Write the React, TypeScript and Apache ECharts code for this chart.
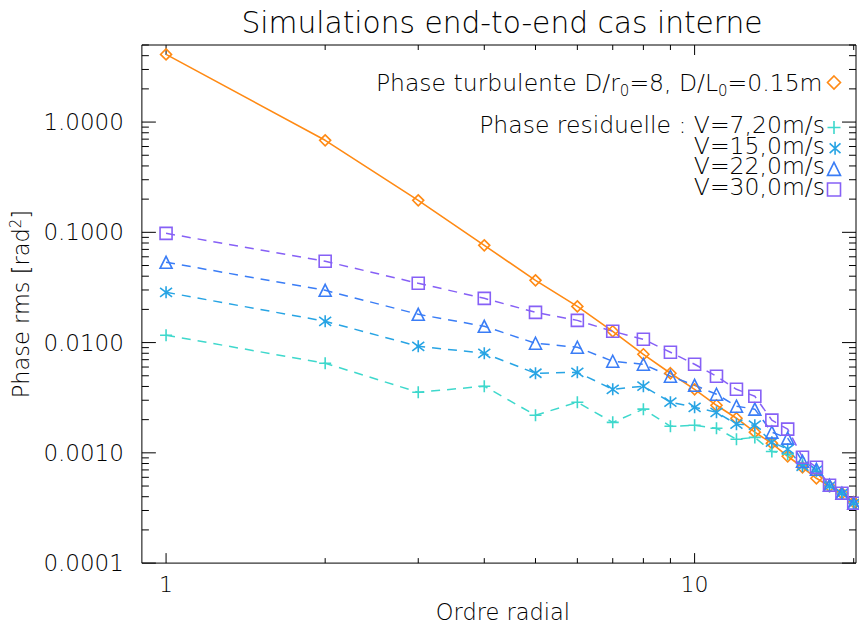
import React, { useEffect, useRef } from 'react';
import * as echarts from 'echarts';

const orders = [1, 2, 3, 4, 5, 6, 7, 8, 9, 10, 11, 12, 13, 14, 15, 16, 17, 18, 19, 20];
const turbulent = [4.11, 0.683, 0.195, 0.0762, 0.0367, 0.0213, 0.01266, 0.00783, 0.00527, 0.00377, 0.0027, 0.00206, 0.00154, 0.00122, 0.000931, 0.00074, 0.000588, 0.000498, 0.00043, 0.000357];
const v720 = [0.01165, 0.0065, 0.00354, 0.00402, 0.00219, 0.00288, 0.00189, 0.00249, 0.00174, 0.00178, 0.00167, 0.00133, 0.00138, 0.00103, 0.00097, 0.000788, 0.000681, 0.000498, 0.00043, 0.000349];
const v150 = [0.0286, 0.0156, 0.00926, 0.008, 0.00527, 0.00538, 0.00377, 0.00402, 0.00288, 0.00259, 0.00233, 0.00182, 0.00178, 0.00125, 0.00108, 0.000756, 0.000696, 0.000498, 0.00043, 0.000349];
const v220 = [0.0535, 0.0298, 0.01805, 0.01405, 0.00986, 0.00907, 0.00677, 0.00636, 0.00495, 0.0041, 0.0034, 0.00265, 0.00249, 0.00154, 0.00136, 0.000839, 0.00071, 0.000508, 0.00043, 0.000349];
const v300 = [0.0979, 0.0546, 0.0345, 0.0252, 0.0188, 0.0159, 0.01266, 0.01071, 0.00817, 0.00636, 0.00495, 0.00377, 0.00326, 0.00198, 0.00164, 0.000912, 0.00074, 0.000508, 0.00043, 0.000349];

const xMajorTicks = [1, 10];
const xMinorTicks = [2, 3, 4, 5, 6, 7, 8, 9, 20];
const yMajorTicks = [0.0001, 0.001, 0.01, 0.1, 1];
const yMinorMultipliers = [2, 3, 4, 5, 6, 7, 8, 9];
const yTickLabels = ['0.0001', '0.0010', '0.0100', '0.1000', '1.0000'];

const X_MIN = 0.9;
const X_MAX = 20.2;
const Y_MIN = 0.0001;
const Y_MAX = 5;

const FONT = 'DejaVu Sans';
const FW = 200;

const C_TURB = '#FF8A14';
const C_720 = '#3ED8CC';
const C_150 = '#27A4E4';
const C_220 = '#3A7DF6';
const C_300 = '#8660F6';

const PLUS = 'path://M0,-6L0,6M-6,0L6,0';
const STAR = 'path://M0,-6L0,6M-5,-4.5L5,4.5M-5,4.5L5,-4.5';

const names = {
  turb: 'Phase turbulente',
  a: 'V=7,20m/s',
  b: 'V=15,0m/s',
  c: 'V=22,0m/s',
  d: 'V=30,0m/s',
};
const residualTitle = 'Phase residuelle : ';

function isDecade(v: number) {
  const l = Math.log10(v);
  return Math.abs(l - Math.round(l)) < 1e-6;
}

export default function App() {
  const ref = useRef<HTMLDivElement>(null);
  useEffect(() => {
    if (!ref.current) return;
    const chart = echarts.init(ref.current, null, { renderer: 'svg' });

    const yMinorTicks: number[] = [];
    yMajorTicks.forEach((d) => {
      yMinorMultipliers.forEach((k) => {
        const v = d * k;
        if (v <= Y_MAX + 1e-9) yMinorTicks.push(v);
      });
    });

    const xTickData = [
      ...xMajorTicks.map((v) => [v, Y_MIN, 1]),
      ...xMinorTicks.map((v) => [v, Y_MIN, 0]),
    ];
    const yTickData = [
      ...yMajorTicks.map((v) => [X_MIN, v, 1]),
      ...yMinorTicks.map((v) => [X_MIN, v, 0]),
    ];

    const mkData = (arr: number[]) => orders.map((o, i) => [o, arr[i]]);

    const residual = (name: string, data: number[], color: string, symbol: string, size: number) => ({
      name,
      type: 'line',
      data: mkData(data),
      symbol,
      symbolSize: size,
      showSymbol: true,
      lineStyle: { color, width: 1.5, type: [9, 7] },
      itemStyle: { color: 'none', borderColor: color, borderWidth: 1.6 },
      emphasis: { disabled: true },
      z: 3,
    });

    const LEG_RIGHT = 16;
    const legendText = { fontFamily: FONT, fontWeight: FW, fontSize: 23.5, color: '#000', lineHeight: 19 };
    const turbLegend = {
      show: true,
      right: LEG_RIGHT,
      top: 70.5,
      padding: 0,
      orient: 'vertical',
      align: 'right',
      itemWidth: 13,
      itemHeight: 13,
      selectedMode: false,
      data: [{ name: names.turb, icon: 'diamond', itemStyle: { color: 'none', borderColor: C_TURB, borderWidth: 1.6 } }],
      textStyle: {
        ...legendText,
        rich: {
          t: { ...legendText },
          s: { fontFamily: FONT, fontWeight: FW, fontSize: 15, color: '#000', verticalAlign: 'bottom', lineHeight: 14, padding: [0, 0, -6, 0] },
        },
      },
      formatter: () => '{t|Phase turbulente D/r}{s|0}{t|=8, D/L}{s|0}{t|=0.15m}',
    };
    const iconLegend = (name: string, icon: string, color: string, top: number) => ({
      show: true,
      right: LEG_RIGHT,
      top,
      padding: 0,
      orient: 'vertical',
      align: 'right',
      itemWidth: 13,
      itemHeight: 13,
      selectedMode: false,
      data: [{ name, icon, itemStyle: { color: 'none', borderColor: color, borderWidth: 1.6 } }],
      textStyle: { fontSize: 8, lineHeight: 8, color: '#000' },
      formatter: () => '',
    });

    const residualLines = [residualTitle + names.a, names.b, names.c, names.d];
    const LINE_STEP = 20.67;
    const firstCenter = 125;

    chart.setOption({
      animation: false,
      backgroundColor: '#fff',
      title: {
        text: 'Simulations end-to-end cas interne',
        left: 502,
        top: 7,
        textAlign: 'center',
        padding: 0,
        textStyle: { fontFamily: FONT, fontSize: 29.7, fontWeight: FW, color: '#000' },
      },
      grid: {
        left: 137,
        right: 0,
        top: 45,
        bottom: 64,
        show: true,
        borderColor: '#000',
        borderWidth: 1,
        backgroundColor: 'transparent',
      },
      legend: [
        turbLegend,
        iconLegend(names.a, PLUS, C_720, firstCenter - 6.5),
        iconLegend(names.b, STAR, C_150, firstCenter + LINE_STEP - 6.5),
        iconLegend(names.c, 'triangle', C_220, firstCenter + 2 * LINE_STEP - 6.5),
        iconLegend(names.d, 'rect', C_300, firstCenter + 3 * LINE_STEP - 6.5),
      ],
      graphic: [
        {
          type: 'text',
          x: 859 - LEG_RIGHT - 13 - 5,
          y: firstCenter - LINE_STEP / 2,
          silent: true,
          style: {
            text: residualLines.join('\n'),
            align: 'right',
            verticalAlign: 'top',
            fontFamily: FONT,
            fontWeight: FW,
            fontSize: 23.5,
            lineHeight: LINE_STEP,
            fill: '#000',
          },
        },
      ],
      xAxis: {
        type: 'log',
        logBase: 10,
        min: X_MIN,
        max: X_MAX,
        axisLine: { show: false },
        axisTick: { show: false },
        splitLine: { show: false },
        axisLabel: {
          fontFamily: FONT,
          fontWeight: FW,
          fontSize: 22,
          color: '#000',
          margin: 10,
          formatter: (v: number) => (isDecade(v) ? String(Math.round(v)) : ''),
        },
        name: 'Ordre radial',
        nameLocation: 'middle',
        nameGap: 36,
        nameTextStyle: { fontFamily: FONT, fontWeight: FW, fontSize: 22.5, color: '#000', padding: [0, 0, 0, 8] },
      },
      yAxis: {
        type: 'log',
        logBase: 10,
        min: Y_MIN,
        max: Y_MAX,
        axisLine: { show: false },
        axisTick: { show: false },
        splitLine: { show: false },
        axisLabel: {
          fontFamily: FONT,
          fontWeight: FW,
          fontSize: 23,
          color: '#000',
          margin: 18,
          formatter: (v: number) => {
            if (!isDecade(v)) return '';
            const idx = Math.round(Math.log10(v)) + 4;
            return yTickLabels[idx] ?? '';
          },
        },
        name: '{a|Phase rms [rad}{p|2}{a|]}',
        nameLocation: 'middle',
        nameGap: 96,
        nameTextStyle: {
          padding: 0,
          rich: {
            a: { fontFamily: FONT, fontWeight: FW, fontSize: 22.5, color: '#000', lineHeight: 26 },
            p: { fontFamily: FONT, fontWeight: FW, fontSize: 15, color: '#000', verticalAlign: 'top', lineHeight: 14 },
          },
        },
      },
      series: [
        {
          name: names.turb,
          type: 'line',
          data: mkData(turbulent),
          symbol: 'diamond',
          symbolSize: 11,
          showSymbol: true,
          lineStyle: { color: C_TURB, width: 1.6 },
          itemStyle: { color: 'none', borderColor: C_TURB, borderWidth: 1.6 },
          emphasis: { disabled: true },
          z: 3,
        },
        residual(names.a, v720, C_720, PLUS, 12),
        residual(names.b, v150, C_150, STAR, 12),
        residual(names.c, v220, C_220, 'triangle', 12),
        residual(names.d, v300, C_300, 'rect', 12),
        {
          name: 'xticks',
          type: 'custom',
          silent: true,
          data: xTickData,
          encode: { x: 0, y: 1 },
          z: 1,
          renderItem: (_p: any, api: any) => {
            const v = api.value(0);
            const major = api.value(2) === 1;
            const b = api.coord([v, Y_MIN]);
            const t = api.coord([v, Y_MAX]);
            const len = major ? 10 : 5;
            const st = { stroke: '#000', lineWidth: 1 };
            return {
              type: 'group',
              children: [
                { type: 'line', shape: { x1: b[0], y1: b[1], x2: b[0], y2: b[1] - len }, style: st },
                { type: 'line', shape: { x1: t[0], y1: t[1], x2: t[0], y2: t[1] + len }, style: st },
              ],
            };
          },
        },
        {
          name: 'yticks',
          type: 'custom',
          silent: true,
          data: yTickData,
          encode: { x: 0, y: 1 },
          z: 1,
          renderItem: (_p: any, api: any) => {
            const v = api.value(1);
            const major = api.value(2) === 1;
            const l = api.coord([X_MIN, v]);
            const r = api.coord([X_MAX, v]);
            const len = major ? 14 : 7;
            const st = { stroke: '#000', lineWidth: 1 };
            return {
              type: 'group',
              children: [
                { type: 'line', shape: { x1: l[0], y1: l[1], x2: l[0] + len, y2: l[1] }, style: st },
                { type: 'line', shape: { x1: r[0], y1: r[1], x2: r[0] - len, y2: r[1] }, style: st },
              ],
            };
          },
        },
      ],
    });
    return () => chart.dispose();
  }, []);
  return <div ref={ref} style={{ width: 859, height: 628, position: 'absolute', left: 0, top: 0 }} />;
}
